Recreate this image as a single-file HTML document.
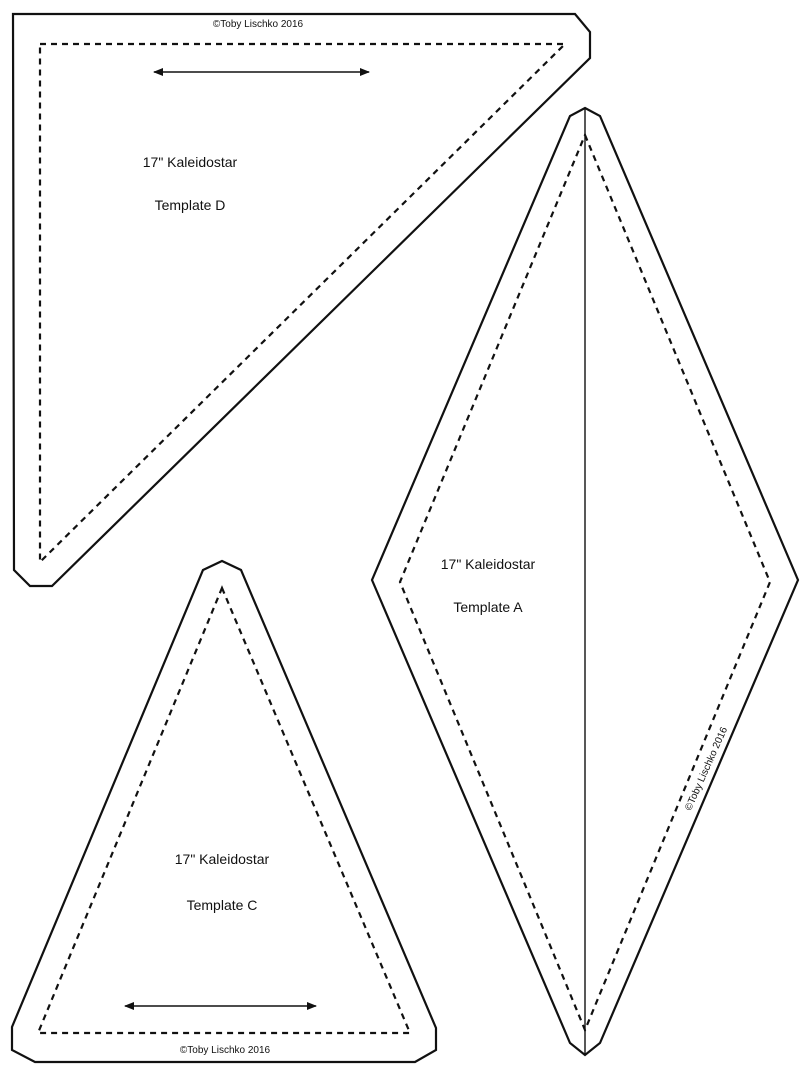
<!DOCTYPE html>
<html><head><style>
body{margin:0;background:#fff}
svg{display:block}
text{font-family:"Liberation Sans",sans-serif;fill:#111}
</style></head><body>
<svg width="810" height="1074" viewBox="0 0 810 1074" xmlns="http://www.w3.org/2000/svg">
<defs><marker id="ah" markerWidth="10" markerHeight="8" refX="9" refY="4" orient="auto-start-reverse" markerUnits="userSpaceOnUse"><path d="M0,0 L10,4 L0,8 Z" fill="#111"/></marker></defs>
<g fill="none" stroke="#111" stroke-width="2.2" stroke-linejoin="miter">
<polygon points="13,14 575,14 590,32 590,58 52,586 30,586 14,570"/>
<polyline points="40,44 565,44 40,562 40,44" stroke-width="2.2" stroke-dasharray="6,5"/>
<polygon points="585,108 600,116 798,580 600,1043 585,1055 570,1043 372,580 570,116"/>
<polygon points="585,135 770,582 585,1030 400,582" stroke-width="2.2" stroke-dasharray="6,5"/>
<line x1="585" y1="108" x2="585" y2="1055" stroke-width="1.4"/>
<polygon points="203,570 222,561 241,570 436,1028 436,1050 415,1062 35,1062 12,1050 12,1027"/>
<polygon points="222,588 410,1033 38,1033" stroke-width="2.2" stroke-dasharray="6,5"/>
<line x1="154" y1="72" x2="369" y2="72" stroke-width="1.6" marker-start="url(#ah)" marker-end="url(#ah)"/>
<line x1="125" y1="1006" x2="316" y2="1006" stroke-width="1.6" marker-start="url(#ah)" marker-end="url(#ah)"/>
</g>
<text x="258" y="27" font-size="10" text-anchor="middle">©Toby Lischko 2016</text>
<text x="190" y="167" font-size="14" text-anchor="middle">17" Kaleidostar</text>
<text x="190" y="210" font-size="14" text-anchor="middle">Template D</text>
<text x="488" y="569" font-size="14" text-anchor="middle">17" Kaleidostar</text>
<text x="488" y="612" font-size="14" text-anchor="middle">Template A</text>
<text x="222" y="864" font-size="14" text-anchor="middle">17" Kaleidostar</text>
<text x="222" y="910" font-size="14" text-anchor="middle">Template C</text>
<text x="225" y="1053" font-size="10" text-anchor="middle">©Toby Lischko 2016</text>
<text x="709" y="770" font-size="10" text-anchor="middle" transform="rotate(-66 709 770)">©Toby Lischko 2016</text>
</svg>
</body></html>
